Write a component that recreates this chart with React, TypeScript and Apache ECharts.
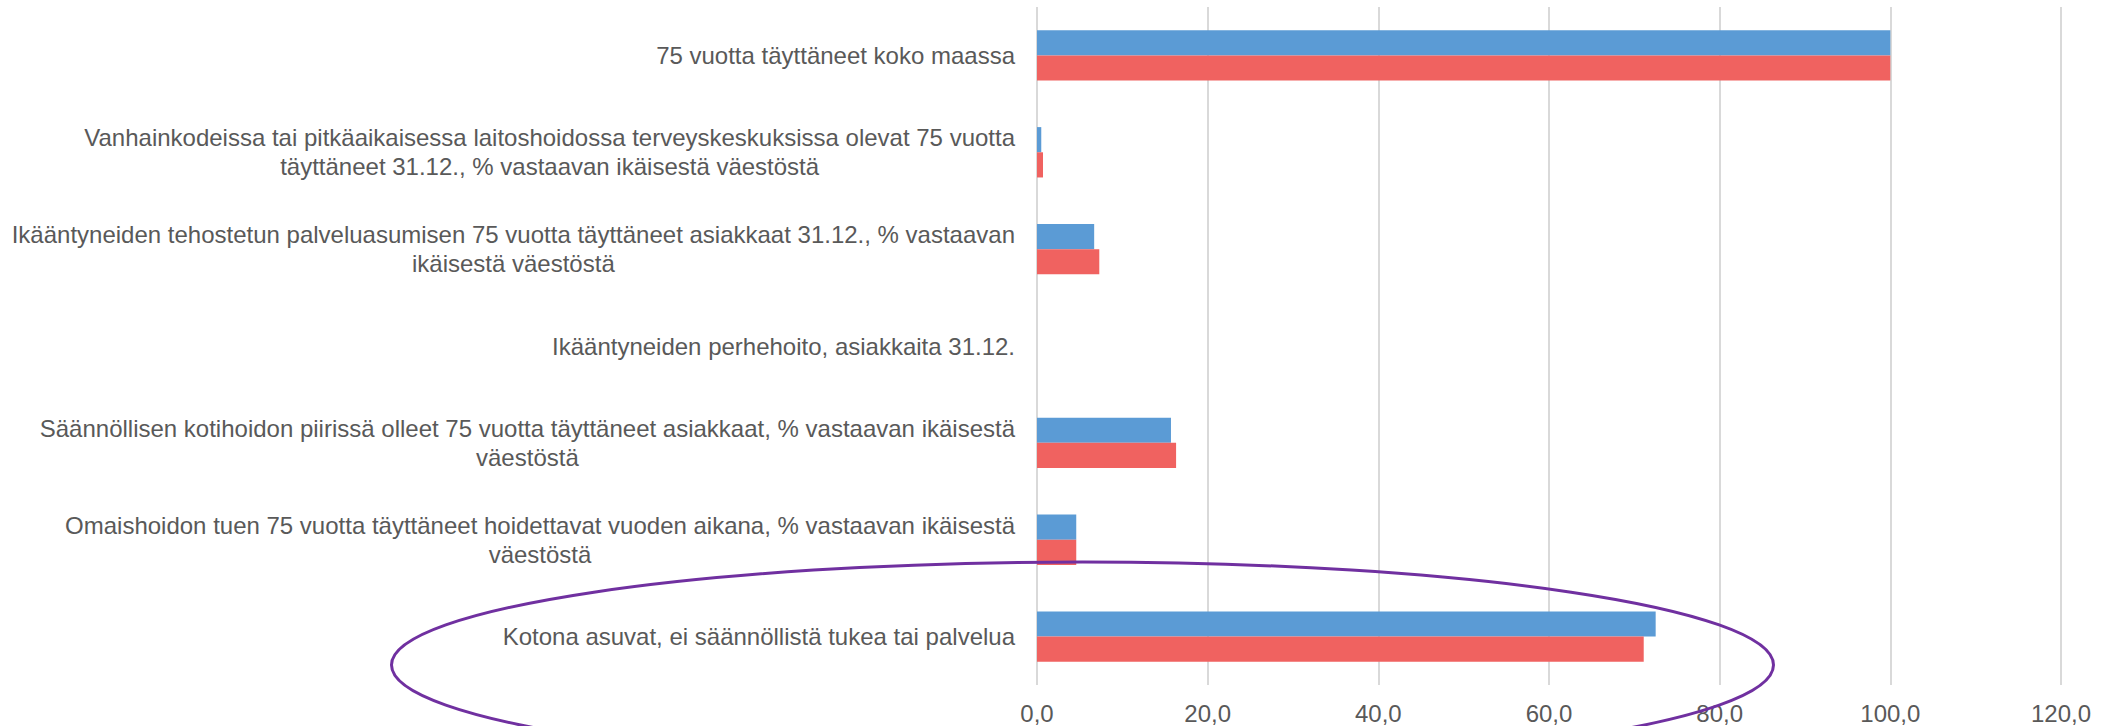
import React, { useEffect, useRef } from "react";
import * as echarts from "echarts";

const categories: string[] = [
  "75 vuotta täyttäneet koko maassa",
  "Vanhainkodeissa tai pitkäaikaisessa laitoshoidossa terveyskeskuksissa olevat 75 vuotta\ntäyttäneet 31.12., % vastaavan ikäisestä väestöstä",
  "Ikääntyneiden tehostetun palveluasumisen 75 vuotta täyttäneet asiakkaat 31.12., % vastaavan\nikäisestä väestöstä",
  "Ikääntyneiden perhehoito, asiakkaita 31.12.",
  "Säännöllisen kotihoidon piirissä olleet 75 vuotta täyttäneet asiakkaat, % vastaavan ikäisestä\nväestöstä",
  "Omaishoidon tuen 75 vuotta täyttäneet hoidettavat vuoden aikana, % vastaavan ikäisestä\nväestöstä",
  "Kotona asuvat, ei säännöllistä tukea tai palvelua",
];

const blueValues: number[] = [100, 0.5, 6.7, 0, 15.7, 4.6, 72.5];
const redValues: number[] = [100, 0.7, 7.3, 0, 16.3, 4.6, 71.1];

const xTicks = { min: 0, max: 120, interval: 20 };

const FONT = "'Liberation Sans', Arial, sans-serif";
const TEXT_COLOR = "#595959";

export default function App() {
  const ref = useRef<HTMLDivElement>(null);

  useEffect(() => {
    if (!ref.current) return;
    const chart = echarts.init(ref.current, undefined, { renderer: "svg" });
    chart.setOption({
      animation: false,
      backgroundColor: "#ffffff",
      grid: { left: 1037, right: 42, top: 7, bottom: 41, containLabel: false },
      xAxis: {
        type: "value",
        min: xTicks.min,
        max: xTicks.max,
        interval: xTicks.interval,
        axisLine: { show: false },
        axisTick: { show: false },
        splitLine: { show: true, lineStyle: { color: "#D9D9D9", width: 2 } },
        axisLabel: {
          fontSize: 24,
          fontFamily: FONT,
          color: TEXT_COLOR,
          margin: 16,
          formatter: (v: number) => v.toFixed(1).replace(".", ","),
        },
      },
      yAxis: {
        type: "category",
        inverse: true,
        data: categories,
        axisLine: { show: false },
        axisTick: { show: false },
        splitLine: { show: false },
        axisLabel: {
          interval: 0,
          margin: 22,
          align: "right",
          fontSize: 24,
          fontFamily: FONT,
          color: TEXT_COLOR,
          lineHeight: 29,
          formatter: (v: string) =>
            v
              .split("\n")
              .map((l) => `{c|${l}}`)
              .join("\n"),
          rich: {
            c: {
              align: "center",
              fontSize: 24,
              fontFamily: FONT,
              color: TEXT_COLOR,
              lineHeight: 29,
            },
          },
        },
      },
      series: [
        {
          type: "bar",
          data: blueValues,
          barGap: "0%",
          barCategoryGap: "48%",
          itemStyle: { color: "#5B9BD5" },
        },
        {
          type: "bar",
          data: redValues,
          barGap: "0%",
          barCategoryGap: "48%",
          itemStyle: { color: "#F06260" },
        },
      ],
      graphic: [
        {
          type: "ellipse",
          shape: { cx: 1082.5, cy: 665, rx: 691, ry: 103 },
          style: { fill: "none", stroke: "#7030A0", lineWidth: 3 },
          silent: true,
          z: 100,
        },
      ],
    });
    return () => chart.dispose();
  }, []);

  return (
    <div
      ref={ref}
      style={{ position: "absolute", left: 0, top: 0, width: 2103, height: 726 }}
    />
  );
}
